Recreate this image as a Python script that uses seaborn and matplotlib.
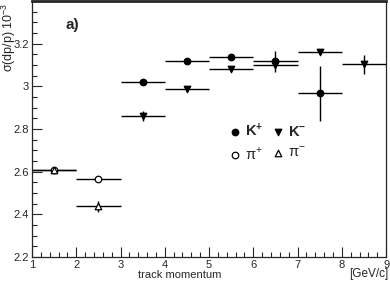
import numpy as np
import pandas as pd
import matplotlib
matplotlib.use('Agg')
import matplotlib.pyplot as plt
import seaborn as sns
from matplotlib.ticker import MultipleLocator, FuncFormatter

# momentum bin centres and resolution values (x 10^-3)
kp_x = [3.5, 4.5, 5.5, 6.5, 7.5]
kp_y = [3.02, 3.12, 3.14, 3.117, 2.967]
kp_err = [0.005, 0.005, 0.01, 0.05, 0.13]

km_x = [3.5, 4.5, 5.5, 6.5, 7.5, 8.5]
km_y = [2.862, 2.989, 3.08, 3.10, 3.162, 3.103]
km_err = [0.025, 0.005, 0.01, 0.01, 0.01, 0.045]

pip_x = [1.5, 2.5]
pip_y = [2.606, 2.567]
pip_err = [0.005, 0.005]

pim_x = [1.5, 2.5]
pim_y = [2.606, 2.438]
pim_err = [0.005, 0.025]

bin_half = 0.5

sns.set_style('ticks')
plt.rcParams['font.family'] = ['Liberation Sans', 'DejaVu Sans']
plt.rcParams['mathtext.fontset'] = 'custom'
plt.rcParams['mathtext.rm'] = 'Liberation Sans'
plt.rcParams['mathtext.bf'] = 'Liberation Sans:bold'

fig = plt.figure(figsize=(3.9, 2.83), dpi=100)
ax = fig.add_axes([0.082, 0.092, 0.908, 0.904])

series = [
    (kp_x, kp_y, kp_err, 'o', 'black', r'$\mathbf{K^{+}}$'),
    (pip_x, pip_y, pip_err, 'o', 'white', r'π$^{+}$'),
    (km_x, km_y, km_err, 'v', 'black', r'$\mathbf{K^{-}}$'),
    (pim_x, pim_y, pim_err, '^', 'white', r'π$^{-}$'),
]

for x, y, err, m, fc, lab in series:
    ax.errorbar(x, y, xerr=bin_half, yerr=err, fmt='none', ecolor='black',
                elinewidth=1.0, capsize=0)
    df = pd.DataFrame({'p': x, 'res': y})
    sns.scatterplot(data=df, x='p', y='res', marker=m, s=22, color=fc,
                    edgecolor='black', linewidth=0.9, ax=ax, label=lab, zorder=3)

ax.set_xlim(1, 9)
ax.set_ylim(2.2, 3.4)
ax.xaxis.set_major_locator(MultipleLocator(1))
ax.xaxis.set_minor_locator(MultipleLocator(0.2))
ax.yaxis.set_minor_locator(MultipleLocator(0.05))
ax.set_yticks([2.2, 2.4, 2.6, 2.8, 3.0, 3.2])
ax.yaxis.set_major_formatter(FuncFormatter(lambda v, p: '%g' % round(v, 2)))
ax.tick_params(which='both', direction='in', labelsize=8, pad=2, width=0.8)
ax.tick_params(which='major', length=7)
ax.tick_params(which='minor', length=3.5)
for s in ax.spines.values():
    s.set_linewidth(0.9)
ax.spines['top'].set_linewidth(2)

ax.set_xlabel('')
ax.set_ylabel('')
fig.text(0.024, 0.99, r'σ(dp/p) 10$^{-3}$', fontsize=9, rotation=90,
         ha='center', va='top')
fig.text(0.46, 0.01, 'track momentum', fontsize=8, ha='center', va='bottom')
fig.text(0.995, 0.01, '[GeV/c]', fontsize=8.5, ha='right', va='bottom')
ax.text(0.095, 0.905, 'a)', transform=ax.transAxes, fontsize=11,
        fontweight='bold', va='center')

leg = ax.legend(loc='upper left', bbox_to_anchor=(0.515, 0.58), ncol=2,
                frameon=False, fontsize=10.5, handletextpad=0.2,
                columnspacing=0.5, labelspacing=0.45, handlelength=1.0)

fig.savefig('out.png', dpi=100)
